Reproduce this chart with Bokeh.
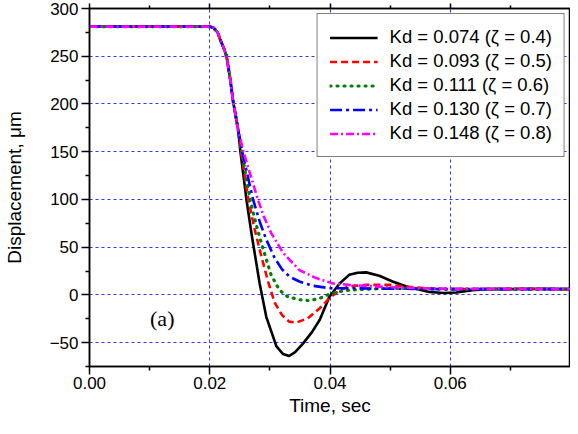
from bokeh.plotting import figure
from bokeh.models import (Legend, LegendItem, LinearAxis, FixedTicker, Range1d,
                          Label, NumeralTickFormatter, ColumnDataSource)
from bokeh.embed import file_html
from bokeh.resources import INLINE

# ---- data ----
t_common = [0.0, 0.0100, 0.0200, 0.0206, 0.0213, 0.0217, 0.0223, 0.0228, 0.0234, 0.0239, 0.0247]
y_common = [281, 281, 281, 280, 275, 268, 259, 250, 226, 202, 174]

t_k074 = [0.0251, 0.0261, 0.0270, 0.0283, 0.0294, 0.0311, 0.0322, 0.0332, 0.0342, 0.0355,
          0.0370, 0.0383, 0.0399, 0.0416, 0.0432, 0.0446, 0.0460, 0.0482, 0.0504, 0.0526,
          0.0546, 0.0565, 0.0590, 0.0610, 0.0637, 0.0660, 0.0700, 0.0750, 0.0800]
y_k074 = [150, 100, 62, 12, -23, -54, -62, -64, -60, -51,
          -39, -26, -2, 12, 21, 23.2, 23.6, 20, 14, 9,
          6, 3, 2, 2.5, 5, 6, 6, 6.5, 6]

t_k093 = [0.0252, 0.0264, 0.0275, 0.0286, 0.0297, 0.0308, 0.0320, 0.0332, 0.0344, 0.0363,
          0.0383, 0.0399, 0.0416, 0.0432, 0.0460, 0.0500, 0.0530, 0.0560, 0.0600, 0.0700, 0.0800]
y_k093 = [150, 100, 68, 40, 14, -8, -21, -28, -29, -24.5,
          -14, -3.5, 5, 9, 10.5, 10.5, 8.5, 7, 6, 6.5, 6]

t_k111 = [0.0253, 0.0267, 0.0278, 0.0286, 0.0302, 0.0316, 0.0330, 0.0349, 0.0366, 0.0383,
          0.0399, 0.0416, 0.0432, 0.0460, 0.0500, 0.0600, 0.0800]
y_k111 = [150, 100, 72, 54, 21, 5, -2, -5, -6, -3.5,
          0.7, 3.5, 5, 6, 7, 6, 6]

t_k130 = [0.0254, 0.0272, 0.0284, 0.0294, 0.0308, 0.0320, 0.0333, 0.0349, 0.0372, 0.0399,
          0.0427, 0.0500, 0.0600, 0.0800]
y_k130 = [150, 100, 75, 58, 38.6, 27, 19, 14, 9.5, 7,
          7, 6.5, 6, 6]

t_k148 = [0.0256, 0.0280, 0.0290, 0.0302, 0.0322, 0.0349, 0.0377, 0.0405, 0.0432, 0.0460,
          0.0500, 0.0550, 0.0600, 0.0800]
y_k148 = [150, 100, 82, 65, 44, 26, 17.6, 12, 10.5, 9.5,
          8, 7, 6.5, 6]

kd_values = ["0.074", "0.093", "0.111", "0.130", "0.148"]
zeta_values = ["0.4", "0.5", "0.6", "0.7", "0.8"]

x_ticks = [0.0, 0.02, 0.04, 0.06]
x_minor = [0.01, 0.03, 0.05, 0.07]
y_ticks = [-50, 0, 50, 100, 150, 200, 250, 300]
y_minor = [-75, -25, 25, 75, 125, 175, 225, 275]

FONT = "Liberation Sans"

p = figure(width=570, height=418, output_backend="svg", toolbar_location=None,
           x_range=Range1d(0, 0.08), y_range=Range1d(-75, 300),
           min_border_left=88, min_border_right=0, min_border_top=8, min_border_bottom=0)
p.outline_line_color = "black"
p.outline_line_width = 1.5

xt = FixedTicker(ticks=x_ticks, minor_ticks=x_minor)
yt = FixedTicker(ticks=y_ticks, minor_ticks=y_minor)

p.xaxis.ticker = xt
p.yaxis.ticker = yt
p.xaxis.formatter = NumeralTickFormatter(format="0.00")
for ax in (p.xaxis[0], p.yaxis[0]):
    ax.axis_line_width = 1.5
    ax.axis_line_color = "black"
    ax.major_tick_line_width = 1.5
    ax.minor_tick_line_width = 1.5
    ax.major_tick_out = 8
    ax.major_tick_in = 0
    ax.minor_tick_out = 4
    ax.minor_tick_in = 0
    ax.major_label_text_font = FONT
    ax.major_label_text_font_size = "17px"
    ax.major_label_text_color = "black"
    ax.axis_label_text_font = FONT
    ax.axis_label_text_font_size = "19px"
    ax.axis_label_text_font_style = "normal"
    ax.axis_label_text_color = "black"
p.xaxis.axis_label = "Time, sec"
p.yaxis.axis_label = "Displacement, \u03bcm"
p.xaxis.major_label_standoff = 2
p.xaxis.axis_label_standoff = 3
p.yaxis.major_label_standoff = 3
p.yaxis.axis_label_standoff = 22

top = LinearAxis(ticker=xt, major_label_text_font_size="0px", major_label_standoff=0,
                 major_label_overrides={0.0: "", 0.02: "", 0.04: "", 0.06: ""},
                 axis_line_width=1.5, major_tick_out=5, major_tick_in=0,
                 minor_tick_out=3, minor_tick_in=0, major_tick_line_width=1.5,
                 minor_tick_line_width=1.5)
p.add_layout(top, "above")

p.xgrid.ticker = FixedTicker(ticks=[0.02, 0.04, 0.06])
p.ygrid.ticker = FixedTicker(ticks=[-50, 0, 50, 100, 150, 200, 250])
for g in (p.xgrid[0], p.ygrid[0]):
    g.grid_line_color = "#0000ff"
    g.grid_line_dash = "3 3"
    g.grid_line_width = 1
    g.grid_line_alpha = 0.8

series = [
    (t_k074, y_k074, "black", "solid", "butt", 2.6),
    (t_k093, y_k093, "#ff0000", "7 4", "butt", 2.6),
    (t_k111, y_k111, "#008000", "1 6", "round", 3.2),
    (t_k130, y_k130, "#0000ff", "12 4 3 4", "butt", 2.6),
    (t_k148, y_k148, "#ff00ff", "8 3 2 3", "butt", 2.6),
]

items = []
for (tt, yy, col, dash, cap, lw), kd, z in zip(series, kd_values, zeta_values):
    src = ColumnDataSource(dict(t=t_common + tt, y=y_common + yy))
    r = p.line("t", "y", source=src, line_color=col, line_width=lw,
               line_dash=dash, line_cap=cap, line_join="round")
    items.append(LegendItem(label=f"Kd = {kd} (\u03b6 = {z})", renderers=[r]))

legend = Legend(items=items, location="top_right")
legend.label_text_font = FONT
legend.label_text_font_size = "18.5px"
legend.label_text_color = "black"
legend.border_line_color = "black"
legend.border_line_width = 1
legend.background_fill_alpha = 1
legend.padding = 12
legend.margin = 5
legend.spacing = 2
legend.label_height = 21
legend.glyph_height = 21
legend.glyph_width = 48
legend.label_standoff = 12
p.add_layout(legend)

p.add_layout(Label(x=0.0121, y=-25, text="(a)", text_font="Liberation Serif",
                   text_font_size="22px", text_baseline="middle", text_align="center",
                   text_color="black"))

open("out.html", "w").write(file_html(p, INLINE))
